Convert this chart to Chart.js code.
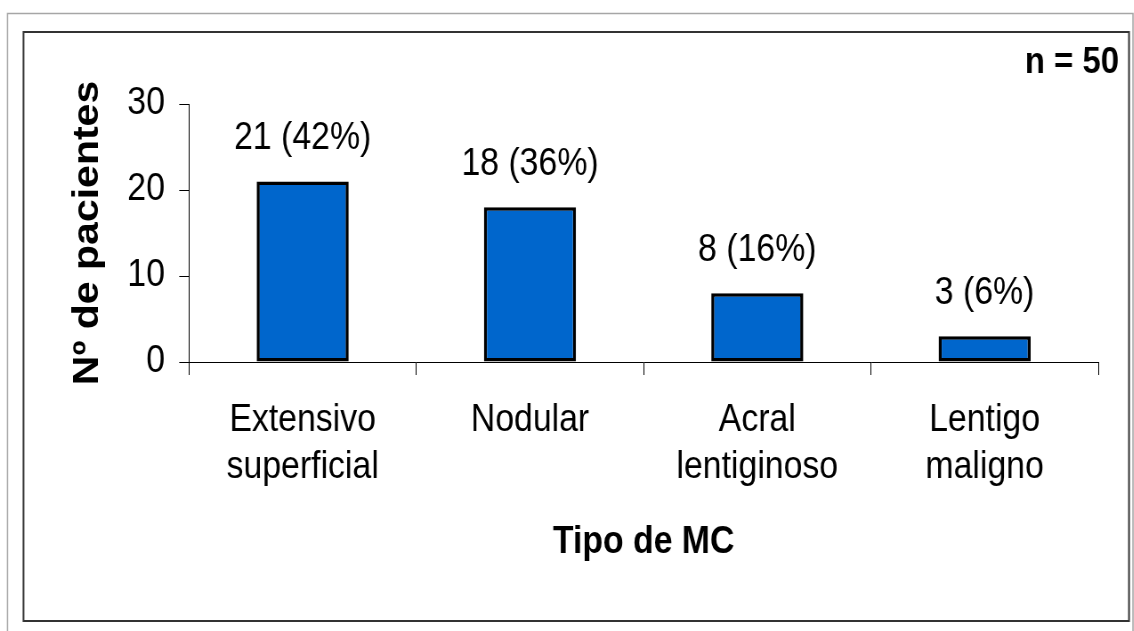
<!DOCTYPE html>
<html>
<head>
<meta charset="utf-8">
<script src="https://cdn.jsdelivr.net/npm/chart.js@4.4.1/dist/chart.umd.min.js"></script>
<style>
    html, body { margin: 0; padding: 0; background: #fff; overflow: hidden; }
    /* the original picture is squeezed sideways, so the canvas is too */
    #chart { transform: scaleX(0.89); transform-origin: 0 0; }
</style>
</head>
<body>
<canvas id="chart" width="1274" height="631"></canvas>
<script>
const categories = [['Extensivo', 'superficial'], 'Nodular', ['Acral', 'lentiginoso'], ['Lentigo', 'maligno']];
const patients = [21, 18, 8, 3];
const percents = [42, 36, 16, 6];
const yTicks = [0, 10, 20, 30];
const totalLabel = 'n = 50';

const SX = 0.89;
const FONT = "'Liberation Sans', Arial, sans-serif";

Chart.defaults.color = '#000';
Chart.defaults.font.family = FONT;

/**
 * Frames, value labels and the n = 50 note
 */
const extrasPlugin = {
    id: 'extras',
    beforeDraw(chart) {
        const ctx = chart.ctx;
        ctx.save();
        ctx.fillStyle = '#fff';
        ctx.fillRect(0, 0, chart.width, chart.height);

        // outer frame
        ctx.strokeStyle = '#a6a6a6';
        ctx.lineWidth = 1.5;
        ctx.strokeRect(7.5 / SX, 13.5, chart.width - 1 - 7.5 / SX, chart.height);

        // inner frame
        ctx.strokeStyle = '#333';
        ctx.lineWidth = 2;
        ctx.strokeRect(23.5 / SX, 32, (1129 - 23.5) / SX, 621 - 32);
        ctx.restore();
    },
    afterDatasetsDraw(chart) {
        const ctx = chart.ctx;
        ctx.save();
        ctx.fillStyle = '#000';
        ctx.textAlign = 'center';
        ctx.textBaseline = 'middle';
        ctx.font = '38px ' + FONT;
        chart.getDatasetMeta(0).data.forEach((bar, i) => {
            ctx.fillText(patients[i] + ' (' + percents[i] + '%)', bar.x, bar.y - 43);
        });

        ctx.textAlign = 'right';
        ctx.font = 'bold 37px ' + FONT;
        ctx.fillText(totalLabel, 1119 / SX, 63);
        ctx.restore();
    }
};

new Chart(document.getElementById('chart'), {
    type: 'bar',
    data: {
        labels: categories,
        datasets: [{
            data: patients,
            backgroundColor: '#0066CC',
            borderColor: '#000',
            borderWidth: 3.5,
            borderSkipped: false,
            barPercentage: 0.405,
            categoryPercentage: 1
        }]
    },
    options: {
        responsive: false,
        devicePixelRatio: 1,
        animation: false,
        events: [],
        layout: {
            padding: { top: 104, right: 40, bottom: 0, left: 0 }
        },
        plugins: {
            legend: { display: false },
            tooltip: { enabled: false }
        },
        scales: {
            x: {
                afterFit: scale => { scale.height = 631 - 362; },
                grid: { drawOnChartArea: false, drawTicks: true, tickLength: 13, color: '#000' },
                border: { color: '#000', width: 1 },
                ticks: {
                    padding: 22,
                    maxRotation: 0,
                    autoSkip: false,
                    font: { size: 38, lineHeight: 1.24 }
                },
                title: {
                    display: true,
                    text: 'Tipo de MC',
                    font: { size: 38, weight: 'bold', lineHeight: 1.2 },
                    padding: { bottom: 66 }
                }
            },
            y: {
                min: 0,
                max: 30,
                afterFit: scale => { scale.width = 189 / SX; },
                afterBuildTicks: scale => { scale.ticks = yTicks.map(v => ({ value: v })); },
                grid: { drawOnChartArea: false, drawTicks: true, tickLength: 11, color: '#000' },
                border: { color: '#000', width: 1 },
                ticks: {
                    padding: 16,
                    font: { size: 38 }
                },
                title: {
                    display: true,
                    text: 'Nº de pacientes',
                    font: { size: 41, weight: 'bold', lineHeight: 1.2 },
                    padding: { top: 74 }
                }
            }
        }
    },
    plugins: [extrasPlugin]
});
</script>
</body>
</html>
